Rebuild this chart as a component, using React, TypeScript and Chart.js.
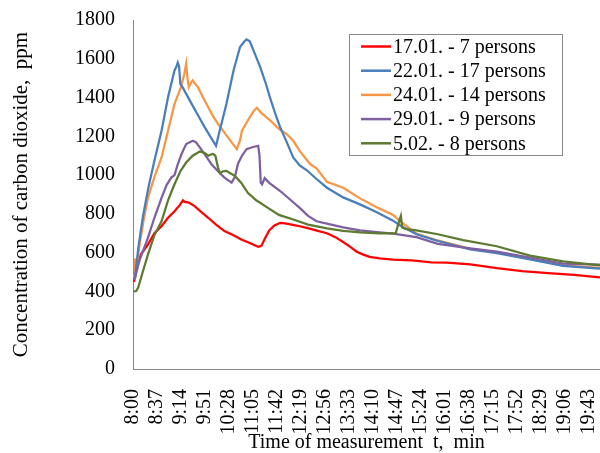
import React, { useEffect, useRef } from "react";
import { Chart, registerables } from "chart.js";

Chart.register(...registerables);

// ---- Data (minutes after 8:00, CO2 ppm) ----
const seriesLabels = [
  "17.01. - 7 persons",
  "22.01. - 17 persons",
  "24.01. - 14 persons",
  "29.01. - 9 persons",
  "5.02. - 8 persons",
];
const seriesColors = ["#FF0000", "#4A7EBB", "#F79646", "#7D60A0", "#5E7A30"];

const redMinutes = [0, 2, 5, 12, 23, 33, 44, 54, 64, 72, 77, 80, 86, 95, 105, 116, 128, 141, 155, 167, 180, 193, 198, 203, 210, 218, 227, 237, 252, 268, 285, 299, 312, 324, 335, 345, 355, 365, 380, 401, 430, 460, 484, 520, 561, 600, 640, 680, 720];
const redPpm = [451, 455, 520, 590, 642, 700, 736, 780, 814, 845, 870, 862, 858, 840, 810, 780, 745, 711, 690, 668, 650, 630, 635, 670, 715, 740, 754, 750, 740, 728, 712, 700, 680, 655, 630, 605, 590, 578, 570, 564, 560, 550, 548, 540, 520, 505, 495, 485, 472];

const blueMinutes = [0, 3, 8, 15, 24, 33, 44, 54, 64, 67, 69, 71, 73, 77, 90, 100, 110, 120, 128, 133, 144, 155, 165, 172, 175, 180, 185, 196, 205, 211, 220, 227, 237, 247, 257, 268, 283, 299, 324, 350, 375, 401, 412, 437, 470, 520, 561, 612, 663, 720];
const bluePpm = [460, 470, 620, 780, 940, 1074, 1229, 1402, 1540, 1560, 1580, 1560, 1470, 1450, 1370, 1310, 1250, 1195, 1151, 1220, 1367, 1540, 1661, 1690, 1700, 1690, 1650, 1558, 1470, 1402, 1310, 1246, 1170, 1091, 1050, 1025, 980, 935, 885, 849, 810, 765, 740, 695, 660, 617, 598, 565, 532, 518];

const orangeMinutes = [0, 2, 3, 5, 10, 17, 23, 33, 44, 54, 64, 74, 79, 82, 84, 86, 90, 92, 96, 100, 108, 116, 124, 131, 144, 152, 160, 165, 168, 175, 180, 187, 191, 198, 206, 214, 221, 229, 237, 247, 257, 273, 283, 299, 324, 350, 375, 401, 412, 437, 470, 520, 561, 612, 663, 720];
const orangePpm = [470, 480, 570, 510, 640, 780, 883, 990, 1091, 1229, 1367, 1454, 1520, 1575, 1500, 1454, 1480, 1489, 1470, 1455, 1400, 1350, 1300, 1264, 1205, 1170, 1134, 1180, 1229, 1270, 1298, 1335, 1347, 1320, 1298, 1275, 1250, 1229, 1212, 1177, 1125, 1057, 1035, 965, 935, 880, 835, 795, 762, 698, 663, 620, 601, 568, 535, 521];

const purpleMinutes = [0, 3, 10, 23, 33, 44, 52, 59, 64, 69, 75, 82, 92, 97, 103, 112, 121, 131, 141, 152, 157, 162, 168, 175, 185, 193, 195, 197, 199, 203, 210, 227, 247, 257, 270, 283, 299, 324, 350, 380, 401, 437, 470, 520, 561, 612, 663, 720];
const purplePpm = [465, 470, 560, 676, 780, 883, 950, 987, 1000, 1056, 1110, 1160, 1177, 1170, 1143, 1100, 1056, 1020, 987, 961, 990, 1060, 1100, 1134, 1145, 1151, 1100, 960, 952, 985, 960, 918, 860, 831, 790, 762, 750, 730, 715, 705, 698, 680, 645, 622, 605, 575, 543, 538];

const greenMinutes = [0, 5, 8, 15, 23, 33, 44, 54, 64, 73, 82, 92, 103, 110, 116, 123, 127, 131, 134, 139, 144, 150, 157, 167, 177, 190, 208, 225, 247, 270, 299, 324, 350, 380, 405, 410, 413, 415, 420, 437, 470, 509, 561, 612, 663, 720];
const greenPpm = [400, 402, 420, 500, 590, 690, 762, 870, 953, 1020, 1065, 1100, 1122, 1115, 1100, 1110, 1100, 1040, 1010, 1020, 1022, 1010, 996, 960, 909, 870, 831, 795, 771, 745, 725, 712, 705, 700, 700, 760, 790, 730, 722, 715, 695, 665, 633, 585, 555, 534];

const seriesMinutes = [redMinutes, blueMinutes, orangeMinutes, purpleMinutes, greenMinutes];
const seriesPpm = [redPpm, bluePpm, orangePpm, purplePpm, greenPpm];
const seriesOrder = [5, 3, 4, 2, 1];

const xTickMinutes = [0, 37, 74, 111, 148, 185, 222, 259, 296, 333, 370, 407, 444, 481, 518, 555, 592, 629, 666, 703];
const startMinuteOfDay = 8 * 60;
const xMax = 720;
const yMin = 0;
const yMax = 1800;
const yStep = 200;

const FONT = "'Liberation Serif', 'Times New Roman', serif";

function formatClock(min: number): string {
  const total = startMinuteOfDay + min;
  const h = Math.floor(total / 60);
  const m = total % 60;
  return `${h}:${String(m).padStart(2, "0")}`;
}

const boxLegend = {
  id: "boxLegend",
  afterDatasetsDraw(chart: any) {
    const ctx = chart.ctx as CanvasRenderingContext2D;
    const x0 = 349.5, y0 = 34.5, w = 213, h = 121;
    ctx.save();
    ctx.fillStyle = "#FFFFFF";
    ctx.fillRect(x0, y0, w, h);
    ctx.strokeStyle = "#888888";
    ctx.lineWidth = 1;
    ctx.strokeRect(x0, y0, w, h);
    ctx.font = `20px ${FONT}`;
    ctx.textBaseline = "middle";
    ctx.textAlign = "left";
    chart.data.datasets.forEach((ds: any, i: number) => {
      const y = 46.5 + i * 24.2;
      ctx.strokeStyle = ds.borderColor;
      ctx.lineWidth = 2.5;
      ctx.beginPath();
      ctx.moveTo(361, y);
      ctx.lineTo(391, y);
      ctx.stroke();
      ctx.fillStyle = "#000000";
      ctx.fillText(ds.label, 393, y + 1);
    });
    ctx.restore();
  },
};

export default function App() {
  const canvasRef = useRef<HTMLCanvasElement | null>(null);

  useEffect(() => {
    if (!canvasRef.current) return;
    const datasets = seriesLabels.map((label, i) => ({
      label,
      data: seriesMinutes[i].map((t, k) => ({ x: t, y: seriesPpm[i][k] })),
      borderColor: seriesColors[i],
      backgroundColor: seriesColors[i],
      borderWidth: 2.25,
      pointRadius: 0,
      tension: 0,
      fill: false,
      order: seriesOrder[i],
    }));

    const chart = new Chart(canvasRef.current, {
      type: "line",
      data: { datasets },
      plugins: [boxLegend],
      options: {
        animation: false,
        responsive: false,
        parsing: false as any,
        layout: { padding: { top: 20, right: 0, left: 0, bottom: 0 } },
        plugins: {
          legend: { display: false },
          tooltip: { enabled: false },
        },
        scales: {
          x: {
            type: "linear",
            min: 0,
            max: xMax,
            afterBuildTicks: (scale: any) => {
              scale.ticks = xTickMinutes.map((v) => ({ value: v }));
            },
            afterFit: (scale: any) => {
              scale.height = 84;
              scale.paddingLeft = 0;
              scale.paddingRight = 0;
            },
            grid: { display: false, drawTicks: false },
            border: { display: true, color: "#868686", width: 1 },
            ticks: {
              autoSkip: false,
              minRotation: 90,
              maxRotation: 90,
              padding: 20,
              color: "#000000",
              font: { family: FONT, size: 20 },
              callback: (v: any) => formatClock(Number(v)),
            },
            title: {
              display: true,
              text: "Time of measurement  t,  min",
              color: "#000000",
              font: { family: FONT, size: 20 },
              padding: { top: 0, bottom: -2 },
            },
          },
          y: {
            min: yMin,
            max: yMax,
            afterFit: (scale: any) => {
              scale.width = 133;
              scale.paddingTop = 0;
              scale.paddingBottom = 0;
            },
            grid: { display: false, drawTicks: false },
            border: { display: true, color: "#868686", width: 1 },
            ticks: {
              stepSize: yStep,
              padding: 18,
              color: "#000000",
              font: { family: FONT, size: 20 },
              callback: (v: any) => String(v),
            },
            title: {
              display: true,
              text: "Concentration of carbon dioxide,  ppm",
              color: "#000000",
              font: { family: FONT, size: 21 },
              padding: { top: 9, bottom: 0 },
            },
          },
        },
      },
    });
    return () => chart.destroy();
  }, []);

  return (
    <div style={{ position: "fixed", left: 0, top: 0, width: 600, height: 453, background: "#FFFFFF" }}>
      <canvas ref={canvasRef} width={600} height={453} />
    </div>
  );
}
